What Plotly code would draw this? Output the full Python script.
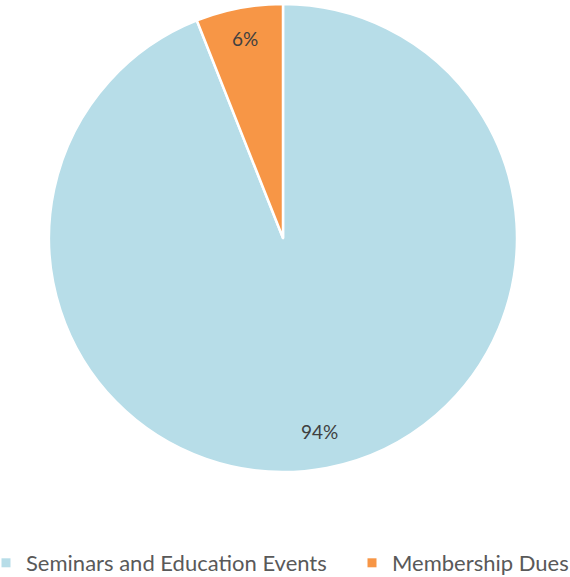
import math
import plotly.graph_objects as go

categories = ["Seminars and Education Events", "Membership Dues"]
values = [94, 6]
colors = ["#B7DDE8", "#F79646"]

W, H = 570, 577
dom_x = [49 / W, 517 / W]
dom_y = [1 - 472 / H, 1 - 4 / H]

fig = go.Figure(go.Pie(
    labels=categories,
    values=values,
    sort=False,
    direction="clockwise",
    rotation=0,
    marker=dict(colors=colors, line=dict(color="white", width=2.5)),
    textinfo="none",
    hoverinfo="label+percent",
    domain=dict(x=dom_x, y=dom_y),
    showlegend=False,
))

# legend entries (one per category, each in its own legend box for Excel-like spacing)
legend_ids = ["legend", "legend2"]
for name, col, lid in zip(categories, colors, legend_ids):
    fig.add_trace(go.Scatter(
        x=[None], y=[None], mode="markers", name=name,
        marker=dict(symbol="square", size=9, color=col),
        legend=lid, showlegend=True, hoverinfo="skip",
    ))

# data labels placed along each slice's bisector (Excel-like position)
total = sum(values)
cx = (dom_x[0] + dom_x[1]) / 2 * W
cy = (1 - (dom_y[0] + dom_y[1]) / 2) * H
R = (dom_x[1] - dom_x[0]) * W / 2
label_r = [0.84, 0.87]
cum = 0
for v, lr in zip(values, label_r):
    mid = (cum + v / 2) / total * 2 * math.pi
    cum += v
    px = cx + math.sin(mid) * R * lr
    py = cy - math.cos(mid) * R * lr
    fig.add_annotation(
        x=px / W, y=1 - py / H, xref="paper", yref="paper",
        text=f"{round(v / total * 100)}%", showarrow=False,
        font=dict(family="Lato, Carlito, sans-serif", size=19, color="#404040"),
        xanchor="center", yanchor="middle",
    )

leg_font = dict(family="Lato, Carlito, sans-serif", size=22, color="#595959")
leg_y = 1 - 563 / H
fig.update_layout(
    width=W, height=H,
    margin=dict(l=0, r=0, t=0, b=0, autoexpand=False),
    paper_bgcolor="white",
    plot_bgcolor="white",
    xaxis=dict(visible=False),
    yaxis=dict(visible=False),
    legend=dict(
        orientation="h", x=(26 - 40) / W, xanchor="left",
        y=leg_y, yanchor="middle", font=leg_font,
        bgcolor="rgba(0,0,0,0)",
    ),
    legend2=dict(
        orientation="h", x=(392 - 40) / W, xanchor="left",
        y=leg_y, yanchor="middle", font=leg_font,
        bgcolor="rgba(0,0,0,0)",
    ),
)
fig.write_html("out.html", config={"displayModeBar": False},
               post_script="document.body.style.margin='0';")
